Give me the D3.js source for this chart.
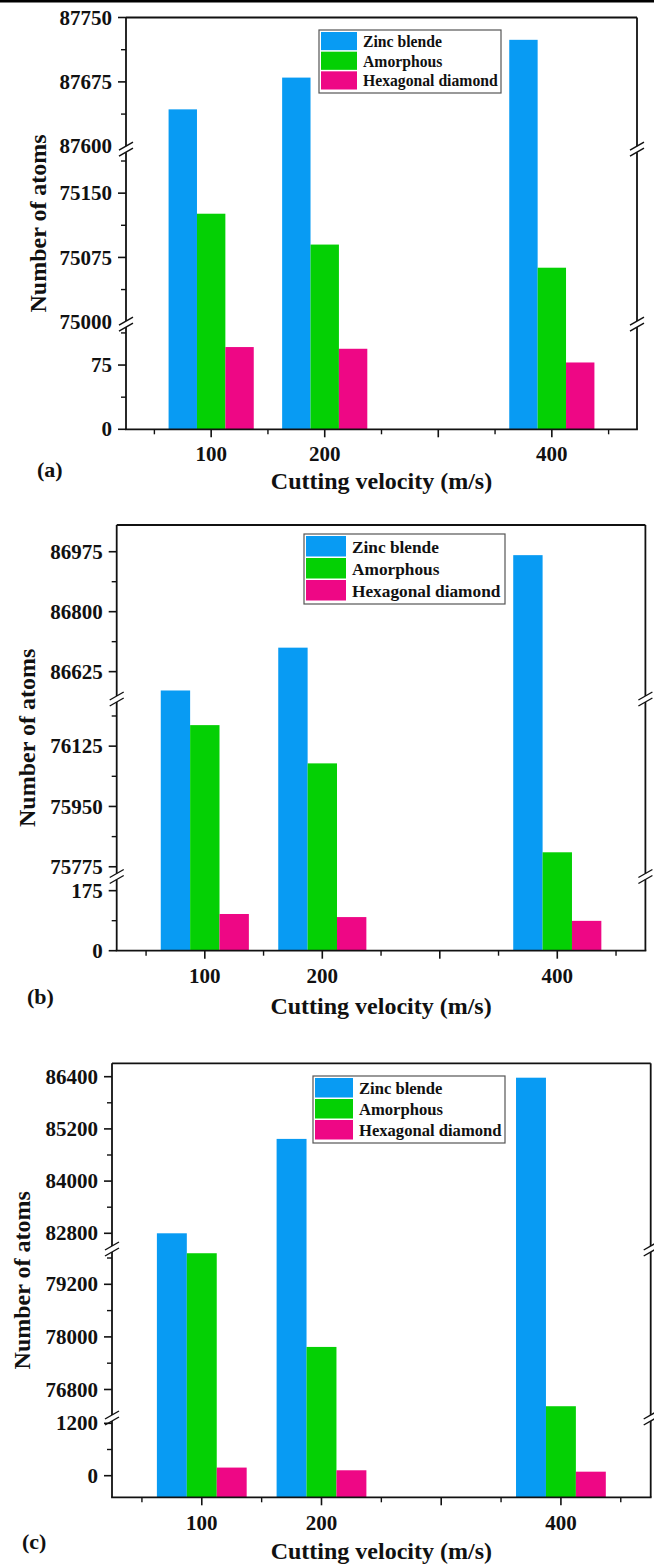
<!DOCTYPE html>
<html>
<head>
<meta charset="utf-8">
<script src="https://cdn.jsdelivr.net/npm/d3@7"></script>
<style>
  html, body { margin: 0; padding: 0; background: #fff; }
  svg { display: block; }
  text { font-family: "Liberation Serif", "Times New Roman", serif; font-weight: bold; fill: #111; }
</style>
</head>
<body>
<svg id="fig" width="654" height="1566"></svg>
<script>
// Cutting velocities (m/s) and phase series
const velocities = [100, 200, 400];
const seriesNames = ["Zinc blende", "Amorphous", "Hexagonal diamond"];
const seriesColors = ["#089BF3", "#04D004", "#EE0785"];

// Panel (a): number of atoms per phase
const zincA = [87643, 87680, 87724];
const amorphousA = [75126, 75090, 75063];
const hexagonalA = [96, 94, 78];
const yTicksA = [[87600, 87675, 87750], [75000, 75075, 75150], [0, 75]];

// Panel (b)
const zincB = [86570, 86695, 86965];
const amorphousB = [76186, 76075, 75817];
const hexagonalB = [107, 98, 87];
const yTicksB = [[86625, 86800, 86975], [75775, 75950, 76125], [0, 175]];

// Panel (c)
const zincC = [82800, 84970, 86377];
const amorphousC = [79909, 77771, 76418];
const hexagonalC = [186, 124, 92];
const yTicksC = [[82800, 84000, 85200, 86400], [76800, 78000, 79200], [0, 1200]];

const xMajorTicks = [100, 200, 300, 400];
const xMinorTicks = [50, 150, 250, 350, 450];
const xDomain = [25, 475];
const barWidthUnits = 25;

const panels = [
  {
    tag: "(a)", series: [zincA, amorphousA, hexagonalA], yTicks: yTicksA,
    frame: { left: 126, right: 637, top: 17.5, bottom: 429.3 },
    segments: [
      { domain: [87598, 87750], range: [148, 17.5] },
      { domain: [75000, 75200], range: [321.7, 150.3] },
      { domain: [0, 120], range: [429.3, 326.5] }
    ],
    legend: { x: 319, y: 30, w: 182, h: 63, swW: 36, textX: 363, fs: 15.7 },
    yTitleX: 37.5, xTickBase: 461, xTitleBase: 489, tagPos: [37, 477]
  },
  {
    tag: "(b)", series: [zincB, amorphousB, hexagonalB], yTicks: yTicksB,
    frame: { left: 116.7, right: 645.4, top: 525, bottom: 950.7 },
    segments: [
      { domain: [86551, 87053], range: [697, 525] },
      { domain: [75754, 76256], range: [874, 701] },
      { domain: [0, 209], range: [950.7, 879] }
    ],
    legend: { x: 304, y: 534, w: 201, h: 70, swW: 40, textX: 352, fs: 17.3 },
    yTitleX: 27, xTickBase: 983, xTitleBase: 1014, tagPos: [27, 1004]
  },
  {
    tag: "(c)", series: [zincC, amorphousC, hexagonalC], yTicks: yTicksC,
    frame: { left: 112, right: 650.7, top: 1063.3, bottom: 1497.3 },
    segments: [
      { domain: [82485, 86708], range: [1247, 1063.3] },
      { domain: [76195, 79960], range: [1416, 1251] },
      { domain: [-495, 1276], range: [1497.3, 1420] }
    ],
    legend: { x: 313, y: 1076, w: 192, h: 67, swW: 38, textX: 359, fs: 16.6 },
    yTitleX: 22, xTickBase: 1530, xTitleBase: 1559, tagPos: [22, 1549]
  }
];

const svg = d3.select("#fig");

// rule across the top edge
svg.append("rect").attr("x", 0).attr("y", 0).attr("width", 654).attr("height", 2.5).attr("fill", "#000");

panels.forEach(p => {
  const g = svg.append("g");
  const f = p.frame;
  const x = d3.scaleLinear().domain(xDomain).range([f.left, f.right]);
  const segScales = p.segments.map(s => d3.scaleLinear().domain(s.domain).range(s.range));

  // piecewise value -> pixel through the broken axis
  const yOf = v => {
    for (let i = 0; i < p.segments.length; i++) {
      const d = p.segments[i].domain;
      if (v >= d[0] && v <= d[1]) return segScales[i](v);
    }
    return f.bottom;
  };

  // bars
  p.series.forEach((vals, si) => {
    g.selectAll(null).data(vals.map((v, k) => ({ v, vel: velocities[k] })))
      .enter().append("rect")
      .attr("x", d => x(d.vel - 1.5 * barWidthUnits + si * barWidthUnits))
      .attr("width", d => x(d.vel - 0.5 * barWidthUnits + si * barWidthUnits) - x(d.vel - 1.5 * barWidthUnits + si * barWidthUnits))
      .attr("y", d => yOf(d.v))
      .attr("height", d => f.bottom - yOf(d.v))
      .attr("fill", seriesColors[si]);
  });

  // break positions between segments
  const breaks = [];
  for (let i = 0; i < p.segments.length - 1; i++) {
    breaks.push((p.segments[i].range[0] + p.segments[i + 1].range[1]) / 2);
  }

  const lineW = 1.8;
  const gap = 3;
  // vertical axes (left and right) interrupted at breaks
  [f.left, f.right].forEach(ax => {
    const stops = [f.top].concat(breaks.flatMap(b => [b - gap, b + gap])).concat([f.bottom]);
    for (let i = 0; i < stops.length; i += 2) {
      g.append("line").attr("x1", ax).attr("x2", ax).attr("y1", stops[i]).attr("y2", stops[i + 1])
        .attr("stroke", "#111").attr("stroke-width", lineW);
    }
    breaks.forEach(b => {
      [-gap, gap].forEach(o => {
        g.append("line")
          .attr("x1", ax - 7).attr("y1", b + o + 4)
          .attr("x2", ax + 7).attr("y2", b + o - 4)
          .attr("stroke", "#111").attr("stroke-width", 1.4);
      });
    });
  });
  // top and bottom frame lines
  g.append("line").attr("x1", f.left).attr("x2", f.right).attr("y1", f.top).attr("y2", f.top)
    .attr("stroke", "#111").attr("stroke-width", lineW);
  g.append("line").attr("x1", f.left - 0.9).attr("x2", f.right + 0.9).attr("y1", f.bottom).attr("y2", f.bottom)
    .attr("stroke", "#111").attr("stroke-width", lineW);

  // y ticks per segment
  p.segments.forEach((s, i) => {
    const sc = segScales[i];
    const majors = p.yTicks[i];
    const step = majors[1] - majors[0];
    const minors = [];
    for (let v = majors[0] - step / 2; v <= majors[majors.length - 1] + step / 2 + 1e-9; v += step) minors.push(v);
    const lo = Math.min(s.range[0], s.range[1]) + 2, hi = Math.max(s.range[0], s.range[1]) - 2;
    minors.filter(v => sc(v) >= lo && sc(v) <= hi).forEach(v => {
      g.append("line").attr("x1", f.left - 5).attr("x2", f.left).attr("y1", sc(v)).attr("y2", sc(v))
        .attr("stroke", "#111").attr("stroke-width", 1.4);
    });
    majors.forEach(v => {
      const yy = sc(v);
      const nearBreak = breaks.some(b => Math.abs(b - yy) < 4);
      if (!nearBreak) {
        g.append("line").attr("x1", f.left - 8).attr("x2", f.left).attr("y1", yy).attr("y2", yy)
          .attr("stroke", "#111").attr("stroke-width", 1.6);
      }
      g.append("text").attr("x", f.left - 14).attr("y", yy).attr("dy", "0.34em")
        .attr("text-anchor", "end").attr("font-size", 21).text(d3.format("d")(v));
    });
  });

  // x ticks
  xMinorTicks.forEach(v => {
    g.append("line").attr("x1", x(v)).attr("x2", x(v)).attr("y1", f.bottom).attr("y2", f.bottom + 5)
      .attr("stroke", "#111").attr("stroke-width", 1.4);
  });
  xMajorTicks.forEach(v => {
    g.append("line").attr("x1", x(v)).attr("x2", x(v)).attr("y1", f.bottom).attr("y2", f.bottom + 8)
      .attr("stroke", "#111").attr("stroke-width", 1.6);
  });
  velocities.forEach(v => {
    g.append("text").attr("x", x(v)).attr("y", p.xTickBase).attr("text-anchor", "middle")
      .attr("font-size", 21).text(v);
  });

  // axis titles and panel tag
  g.append("text").attr("x", (f.left + f.right) / 2).attr("y", p.xTitleBase).attr("text-anchor", "middle")
    .attr("font-size", 24).text("Cutting velocity (m/s)");
  g.append("text")
    .attr("transform", `translate(${p.yTitleX},${(f.top + f.bottom) / 2}) rotate(-90)`)
    .attr("text-anchor", "middle").attr("dy", "0.35em").attr("font-size", 24).text("Number of atoms");
  g.append("text").attr("x", p.tagPos[0]).attr("y", p.tagPos[1]).attr("font-size", 22).text(p.tag);

  // legend
  const L = p.legend;
  const lg = g.append("g");
  lg.append("rect").attr("x", L.x).attr("y", L.y).attr("width", L.w).attr("height", L.h)
    .attr("fill", "#fff").attr("stroke", "#555").attr("stroke-width", 1.2);
  const rowH = (L.h - 4) / 3;
  seriesNames.forEach((name, i) => {
    const ry = L.y + 2 + i * rowH;
    lg.append("rect").attr("x", L.x + 2).attr("y", ry).attr("width", L.swW).attr("height", rowH - 1.5)
      .attr("fill", seriesColors[i]);
    lg.append("text").attr("x", L.textX).attr("y", ry + rowH / 2).attr("dy", "0.33em")
      .attr("font-size", L.fs).text(name);
  });
});
</script>
</body>
</html>
